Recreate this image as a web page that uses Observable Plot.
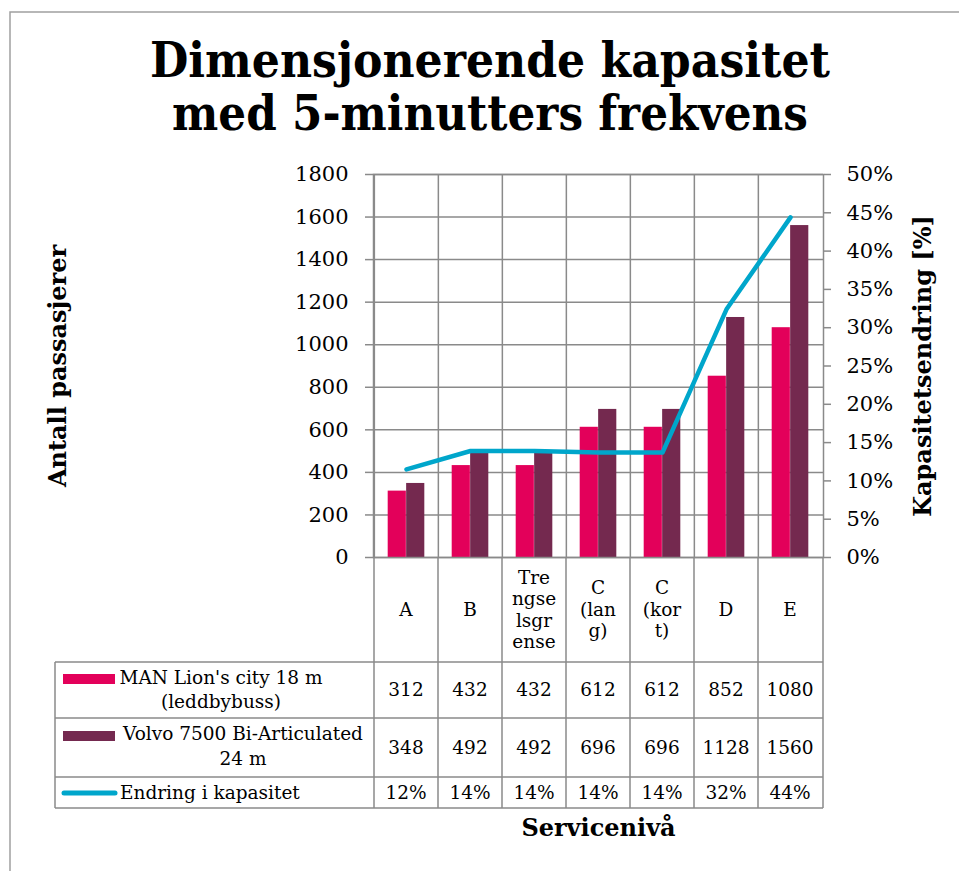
<!DOCTYPE html>
<html><head><meta charset="utf-8">
<script src="https://cdn.jsdelivr.net/npm/d3@7"></script>
<script src="https://cdn.jsdelivr.net/npm/@observablehq/plot@0.6"></script>
<style>
body{margin:0;background:#fff}
#wrap{position:relative;width:959px;height:871px;overflow:hidden;background:#fff}
</style>
</head><body><div id="wrap"></div>
<script>
// ---- data ----
const categories = ["A", "B", "Trengselsgrense", "C (lang)", "C (kort)", "D", "E"];
const categoryLines = [["A"], ["B"], ["Tre", "ngse", "lsgr", "ense"], ["C", "(lan", "g)"], ["C", "(kor", "t)"], ["D"], ["E"]];
const manValues = [312, 432, 432, 612, 612, 852, 1080];
const volvoValues = [348, 492, 492, 696, 696, 1128, 1560];
const changePct = [11.5, 13.9, 13.9, 13.7, 13.7, 32.4, 44.4];
const changeLabels = ["12%", "14%", "14%", "14%", "14%", "32%", "44%"];
const leftTicks = [0, 200, 400, 600, 800, 1000, 1200, 1400, 1600, 1800];
const rightTicks = [0, 5, 10, 15, 20, 25, 30, 35, 40, 45, 50];
const seriesMan = ["MAN Lion's city 18 m", "(leddbybuss)"];
const seriesVolvo = ["Volvo 7500 Bi-Articulated", "24 m"];
const seriesChange = "Endring i kapasitet";
const titleLines = ["Dimensjonerende kapasitet", "med 5-minutters frekvens"];
const yLabel = "Antall passasjerer";
const y2Label = "Kapasitetsendring [%]";
const xLabel = "Servicenivå";

// ---- layout / style ----
const W = 959, H = 871, L = 373, R = 823, T = 174, B = 557;
const pctToY = 1800 / 50;
const grid = "#8a8a8a";
const PINK = "#e3005a", PURPLE = "#74294f", CYAN = "#00a6cb";
const FONT = "DejaVu Serif";
const TFS = 18.5; // table font size
const bw = (R - L) / categories.length;

const rows = categories.map((c, i) => ({cat: c, man: manValues[i], volvo: volvoValues[i], pct: changePct[i]}));

const chart = Plot.plot({
  width: W, height: H,
  marginLeft: L, marginRight: W - R, marginTop: T, marginBottom: H - B,
  style: {fontFamily: FONT, fontSize: "21px", color: "#000", background: "transparent", overflow: "visible"},
  x: {domain: categories, padding: 0, axis: null},
  y: {domain: [0, 1800], axis: null},
  marks: [
    Plot.ruleY(leftTicks, {stroke: grid, strokeWidth: 1.5}),
    Plot.ruleX(categories, {x: d => d, dx: -bw / 2, stroke: grid, strokeWidth: 1.5}),
    Plot.axisY(leftTicks, {anchor: "left", tickSize: 8, tickPadding: 17, label: null, tickFormat: d => String(d),
      stroke: grid, strokeWidth: 1.5, fontSize: 21, fill: "#000"}),
    Plot.axisY(rightTicks.map(p => p * pctToY), {anchor: "right", tickSize: 7, tickPadding: 16, label: null,
      tickFormat: d => Math.round(d / pctToY) + "%", stroke: grid, strokeWidth: 1.5, fontSize: 21, fill: "#000"}),
    Plot.barY(rows, {x: "cat", y: "man", fill: PINK, insetLeft: bw * 0.213, insetRight: bw * 0.5}),
    Plot.barY(rows, {x: "cat", y: "volvo", fill: PURPLE, insetLeft: bw * 0.5, insetRight: bw * 0.213}),
    Plot.frame({stroke: grid, strokeWidth: 1.5}),
    Plot.line(rows, {x: "cat", y: d => d.pct * pctToY, stroke: CYAN, strokeWidth: 4.5, strokeLinejoin: "round", strokeLinecap: "round"}),
    Plot.text([yLabel], {frameAnchor: "left", textAnchor: "middle", dx: 58 - L, rotate: -90, fontWeight: "bold", fontSize: 24}),
    Plot.text([y2Label], {frameAnchor: "right", textAnchor: "middle", dx: 923 - R, rotate: -90, fontWeight: "bold", fontSize: 24}),
    Plot.text([xLabel], {frameAnchor: "bottom", textAnchor: "middle", dy: 835 - B, fontWeight: "bold", fontSize: 24})
  ]
});

document.getElementById("wrap").appendChild(chart);

// ---- data table + title drawn into the same svg, columns from Plot's x scale ----
const xs = chart.scale("x");
const svg = d3.select(chart);
const band0 = c => xs.apply(c);
const center = c => xs.apply(c) + xs.bandwidth / 2;

const rowY = [B, 662, 718, 777, 808];
const legendLeft = 55;
const tg = svg.append("g").attr("font-family", FONT).attr("fill", "#000").attr("font-size", TFS);

// horizontal table lines
rowY.slice(1).forEach(y => tg.append("line").attr("x1", legendLeft).attr("x2", R).attr("y1", y).attr("y2", y)
  .attr("stroke", grid).attr("stroke-width", 1.5));
// vertical table lines
categories.forEach(c => tg.append("line").attr("x1", band0(c)).attr("x2", band0(c)).attr("y1", B).attr("y2", rowY[4])
  .attr("stroke", grid).attr("stroke-width", 1.5));
tg.append("line").attr("x1", R).attr("x2", R).attr("y1", B).attr("y2", rowY[4]).attr("stroke", grid).attr("stroke-width", 1.5);
tg.append("line").attr("x1", legendLeft).attr("x2", legendLeft).attr("y1", rowY[1]).attr("y2", rowY[4]).attr("stroke", grid).attr("stroke-width", 1.5);

// category labels
categories.forEach((c, i) => {
  const lines = categoryLines[i];
  const cy = (rowY[0] + rowY[1]) / 2;
  lines.forEach((s, k) => {
    tg.append("text").attr("x", center(c)).attr("y", cy + (k - (lines.length - 1) / 2) * 21.5)
      .attr("dy", "0.35em").attr("text-anchor", "middle").text(s);
  });
});
// values
const valueRows = [manValues, volvoValues, changeLabels];
valueRows.forEach((vals, r) => {
  const cy = (rowY[r + 1] + rowY[r + 2]) / 2;
  categories.forEach((c, i) => {
    tg.append("text").attr("x", center(c)).attr("y", cy).attr("dy", "0.35em")
      .attr("text-anchor", "middle").text(vals[i]);
  });
});
// legend
tg.append("rect").attr("x", 63).attr("y", 674).attr("width", 52).attr("height", 10).attr("fill", PINK);
tg.append("rect").attr("x", 63).attr("y", 731).attr("width", 52).attr("height", 10).attr("fill", PURPLE);
tg.append("line").attr("x1", 64).attr("x2", 115).attr("y1", 793).attr("y2", 793)
  .attr("stroke", CYAN).attr("stroke-width", 5).attr("stroke-linecap", "round");
seriesMan.forEach((s, k) => tg.append("text").attr("x", 221).attr("y", 678 + k * 24).attr("dy", "0.35em")
  .attr("text-anchor", "middle").text(s));
seriesVolvo.forEach((s, k) => tg.append("text").attr("x", 243).attr("y", 734 + k * 25).attr("dy", "0.35em")
  .attr("text-anchor", "middle").text(s));
tg.append("text").attr("x", 120).attr("y", 793).attr("dy", "0.35em").attr("text-anchor", "start").text(seriesChange);

// title
const titleG = svg.append("g").attr("font-family", FONT).attr("font-weight", "bold").attr("fill", "#000");
titleG.append("text").attr("x", 490).attr("y", 77).attr("text-anchor", "middle").attr("font-size", 48)
  .attr("textLength", 680).attr("lengthAdjust", "spacingAndGlyphs").text(titleLines[0]);
titleG.append("text").attr("x", 490).attr("y", 130).attr("text-anchor", "middle").attr("font-size", 48)
  .attr("textLength", 636).attr("lengthAdjust", "spacingAndGlyphs").text(titleLines[1]);

// outer frame
svg.append("path").attr("d", `M10,${H}V12H${W}`).attr("fill", "none").attr("stroke", "#a0a0a0").attr("stroke-width", 1.5);
</script>
</body></html>
